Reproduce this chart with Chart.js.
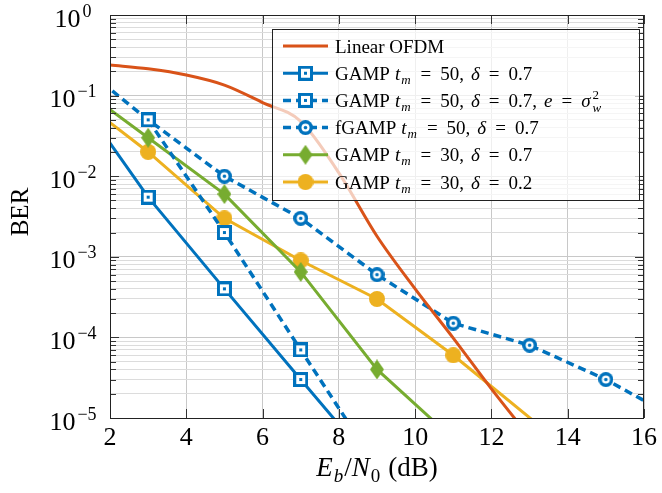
<!DOCTYPE html>
<html>
<head>
<meta charset="utf-8">
<script src="https://cdn.jsdelivr.net/npm/chart.js@4.4.0/dist/chart.umd.min.js"></script>
<style>
  html, body { margin: 0; padding: 0; background: #fff; }
  #wrap { width: 662px; height: 493px; }
</style>
</head>
<body>
<div id="wrap"><canvas id="ber-chart" width="662" height="493"></canvas></div>
<script>
// values (Eb/N0 in dB, BER)
const snrLinear = [2, 3, 4, 5, 6, 7, 8, 9, 10, 11, 12, 13];
const berLinear = [0.24, 0.215, 0.18, 0.135, 0.082, 0.048, 0.011, 1.8e-3, 4e-4, 9.8e-5, 2.3e-5, 5.8e-6];

const snrGamp50 = [1, 3, 5, 7, 9];
const berGamp50 = [0.12, 5.5e-3, 4e-4, 3e-5, 2.3e-6];

const snrGamp50e = [3, 5, 7, 9];
const berGamp50e = [0.05, 2e-3, 7e-5, 2.5e-6];

const snrFgamp50 = [1, 3, 5, 7, 9, 11, 13, 15, 17];
const berFgamp50 = [0.29, 0.05, 0.01, 3e-3, 6e-4, 1.5e-4, 8e-5, 3e-5, 9e-6];

const snrGamp30 = [1, 3, 5, 7, 9, 11];
const berGamp30 = [0.15, 0.03, 6e-3, 6.5e-4, 4e-5, 5.5e-6];

const snrGamp30d02 = [1, 3, 5, 7, 9, 11, 15];
const berGamp30d02 = [0.107, 0.02, 3e-3, 9e-4, 3e-4, 6e-5, 1.7e-6];

const xTicks = [2, 4, 6, 8, 10, 12, 14, 16];
const yExponents = [-5, -4, -3, -2, -1, 0];

// legend text: [text, style]  n = roman, i = italic, sub = italic subscript,
// subsup = sup|sub, g = horizontal gap in px (math spacing)
const eq = (v) => [[9, 'g'], ['=', 'n'], [9, 'g'], [v, 'n']];
const tm = [['t', 'i'], ['m', 'sub']];
const legendLabels = [
    [['Linear OFDM', 'n']],
    [['GAMP', 'n'], [5, 'g'], ...tm, ...eq('50,'), [7, 'g'], ['δ', 'i'], ...eq('0.7')],
    [['GAMP', 'n'], [5, 'g'], ...tm, ...eq('50,'), [7, 'g'], ['δ', 'i'], ...eq('0.7,'), [7, 'g'], ['e', 'i'], ...eq(''), ['σ', 'i'], ['2|w', 'subsup']],
    [['fGAMP', 'n'], [5, 'g'], ...tm, ...eq('50,'), [7, 'g'], ['δ', 'i'], ...eq('0.7')],
    [['GAMP', 'n'], [5, 'g'], ...tm, ...eq('30,'), [7, 'g'], ['δ', 'i'], ...eq('0.7')],
    [['GAMP', 'n'], [5, 'g'], ...tm, ...eq('30,'), [7, 'g'], ['δ', 'i'], ...eq('0.2')]
];
const xTitle = [['E', 'i'], ['b', 'sub'], ['/', 'n'], ['N', 'i'], ['0', 'subr'], [7, 'g'], ['(dB)', 'n']];
const yTitle = 'BER';

const FONT = '"Liberation Serif", "DejaVu Serif", serif';
const RED = '#D95319', BLUE = '#0072BD', GREEN = '#77AC30', YELLOW = '#EDB120';
const DASH = [8, 5];

function makeMarker(w, h, paint) {
    const c = document.createElement('canvas');
    c.width = w;
    c.height = h;
    paint(c.getContext('2d'), w, h);
    return c;
}

const squareMark = makeMarker(15, 15, (g) => {
    g.fillStyle = BLUE;
    g.fillRect(0, 0, 15, 15);
    g.fillStyle = '#fff';
    g.fillRect(3, 3, 9, 9);
    g.fillStyle = BLUE;
    g.fillRect(6, 6, 3, 3);
});
const ringMark = makeMarker(15, 15, (g) => {
    g.fillStyle = BLUE;
    g.beginPath(); g.arc(7.5, 7.5, 7.5, 0, Math.PI * 2); g.fill();
    g.fillStyle = '#fff';
    g.beginPath(); g.arc(7.5, 7.5, 4, 0, Math.PI * 2); g.fill();
    g.fillStyle = BLUE;
    g.beginPath(); g.arc(7.5, 7.5, 1.8, 0, Math.PI * 2); g.fill();
});
const diamondMark = makeMarker(14, 20, (g, w, h) => {
    g.fillStyle = GREEN;
    g.beginPath();
    g.moveTo(w / 2, 0); g.lineTo(w, h / 2); g.lineTo(w / 2, h); g.lineTo(0, h / 2);
    g.closePath(); g.fill();
});
const discMark = makeMarker(16, 16, (g) => {
    g.fillStyle = YELLOW;
    g.beginPath(); g.arc(8, 8, 8, 0, Math.PI * 2); g.fill();
});

const toPoints = (xs, ys) => xs.map((x, i) => ({x, y: ys[i]}));

function drawRich(ctx, segs, x, y, size, dry) {
    let cx = x;
    const small = Math.round(size * 0.7);
    const put = (t, px, py) => { if (!dry) ctx.fillText(t, px, py); };
    for (const [t, s] of segs) {
        if (s === 'g') {
            cx += t;
        } else if (s === 'n' || s === 'i') {
            ctx.font = (s === 'i' ? 'italic ' : '') + size + 'px ' + FONT;
            put(t, cx, y);
            cx += ctx.measureText(t).width;
        } else if (s === 'sub' || s === 'subr') {
            ctx.font = (s === 'sub' ? 'italic ' : '') + small + 'px ' + FONT;
            put(t, cx + 1, y + size * 0.22);
            cx += ctx.measureText(t).width + 2;
        } else if (s === 'subsup') {
            const [sup, sub] = t.split('|');
            ctx.font = small + 'px ' + FONT;
            const w1 = ctx.measureText(sup).width;
            put(sup, cx + 2, y - size * 0.4);
            ctx.font = 'italic ' + small + 'px ' + FONT;
            const w2 = ctx.measureText(sub).width;
            put(sub, cx + 2, y + size * 0.25);
            cx += Math.max(w1, w2) + 2;
        }
    }
    return cx - x;
}

const isDecade = (v) => Math.abs(Math.log10(v) - Math.round(Math.log10(v))) < 1e-9;

const decorPlugin = {
    id: 'decor',
    afterDraw(chart) {
        const {ctx, chartArea: a, scales: {x, y}} = chart;
        ctx.save();
        ctx.textBaseline = 'alphabetic';
        ctx.textAlign = 'left';

        // tick marks inside the frame
        ctx.strokeStyle = '#333';
        ctx.lineWidth = 1;
        ctx.beginPath();
        y.ticks.forEach(t => {
            const py = Math.round(y.getPixelForValue(t.value)) + 0.5;
            const len = isDecade(t.value) ? 9 : 6;
            ctx.moveTo(a.left, py); ctx.lineTo(a.left + len, py);
            ctx.moveTo(a.right, py); ctx.lineTo(a.right - len, py);
        });
        x.ticks.forEach(t => {
            const px = Math.round(x.getPixelForValue(t.value)) + 0.5;
            ctx.moveTo(px, a.bottom); ctx.lineTo(px, a.bottom - 9);
            ctx.moveTo(px, a.top); ctx.lineTo(px, a.top + 9);
        });
        ctx.stroke();

        // legend box
        const box = {left: 272, top: 29, right: 639, bottom: 200};
        ctx.fillStyle = 'rgba(255,255,255,0.7)';
        ctx.fillRect(box.left, box.top, box.right - box.left, box.bottom - box.top);
        ctx.strokeStyle = '#222';
        ctx.strokeRect(box.left + 0.5, box.top + 0.5, box.right - box.left, box.bottom - box.top);

        chart.data.datasets.forEach((ds, i) => {
            const cy = box.top + 17 + i * 27.2;
            ctx.save();
            ctx.strokeStyle = ds.borderColor;
            ctx.lineWidth = ds.borderWidth;
            ctx.setLineDash(ds.borderDash || []);
            ctx.beginPath();
            ctx.moveTo(283, cy); ctx.lineTo(328, cy);
            ctx.stroke();
            ctx.restore();
            if (ds.pointStyle && typeof ds.pointStyle === 'object') {
                const m = ds.pointStyle;
                ctx.drawImage(m, 305.5 - m.width / 2, cy - m.height / 2);
            }
            ctx.fillStyle = '#000';
            drawRich(ctx, legendLabels[i], 335, cy + 6.5, 19);
        });

        // frame
        ctx.strokeStyle = '#222';
        ctx.strokeRect(a.left + 0.5, a.top + 0.5, a.right - a.left - 1, a.bottom - a.top);

        // y tick labels 10^k
        ctx.fillStyle = '#000';
        yExponents.forEach(e => {
            const py = y.getPixelForValue(Math.pow(10, e));
            const exp = e === 0 ? '0' : '\u2212' + (-e);
            ctx.font = '26px ' + FONT;
            const bw = ctx.measureText('10').width;
            ctx.font = '18px ' + FONT;
            const ew = ctx.measureText(exp).width;
            const left = 73 - (bw + ew + 2) / 2;
            ctx.font = '26px ' + FONT;
            ctx.fillText('10', left, py + 11.5);
            ctx.font = '18px ' + FONT;
            ctx.fillText(exp, left + bw + 2, py + 1.5);
        });

        // x title
        const tw = drawRich(ctx, xTitle, 0, 0, 27, true);
        drawRich(ctx, xTitle, (a.left + a.right) / 2 - tw / 2, 476, 27);

        // y title
        ctx.save();
        ctx.translate(28, 212);
        ctx.rotate(-Math.PI / 2);
        ctx.textAlign = 'center';
        ctx.font = '25px ' + FONT;
        ctx.fillText(yTitle, 0, 0);
        ctx.restore();

        ctx.restore();
    }
};

const ctx = document.getElementById('ber-chart');
new Chart(ctx, {
    type: 'line',
    data: {
        datasets: [
            {
                label: 'Linear OFDM',
                data: toPoints(snrLinear, berLinear),
                borderColor: RED,
                borderWidth: 3,
                pointRadius: 0,
                cubicInterpolationMode: 'monotone'
            },
            {
                label: 'GAMP tm=50, d=0.7',
                data: toPoints(snrGamp50, berGamp50),
                borderColor: BLUE,
                borderWidth: 3,
                pointStyle: squareMark,
                pointRadius: 7
            },
            {
                label: 'GAMP tm=50, d=0.7, e=sigma_w^2',
                data: toPoints(snrGamp50e, berGamp50e),
                borderColor: BLUE,
                borderWidth: 3.5,
                borderDash: DASH,
                pointStyle: squareMark,
                pointRadius: 7
            },
            {
                label: 'fGAMP tm=50, d=0.7',
                data: toPoints(snrFgamp50, berFgamp50),
                borderColor: BLUE,
                borderWidth: 3.5,
                borderDash: DASH,
                pointStyle: ringMark,
                pointRadius: 7
            },
            {
                label: 'GAMP tm=30, d=0.7',
                data: toPoints(snrGamp30, berGamp30),
                borderColor: GREEN,
                borderWidth: 3,
                pointStyle: diamondMark,
                pointRadius: 7
            },
            {
                label: 'GAMP tm=30, d=0.2',
                data: toPoints(snrGamp30d02, berGamp30d02),
                borderColor: YELLOW,
                borderWidth: 3,
                pointStyle: discMark,
                pointRadius: 7
            }
        ]
    },
    options: {
        responsive: false,
        animation: false,
        layout: {padding: {left: 0, right: 14, top: 15, bottom: 0}},
        plugins: {
            legend: {display: false},
            tooltip: {enabled: false}
        },
        scales: {
            x: {
                type: 'linear',
                min: 2,
                max: 16,
                afterBuildTicks: (scale) => { scale.ticks = xTicks.map(v => ({value: v})); },
                afterFit: (scale) => { scale.height = 75; },
                grid: {color: '#c8c8c8', drawTicks: false},
                border: {display: false},
                ticks: {
                    color: '#000',
                    font: {family: FONT, size: 26},
                    padding: 5,
                    maxRotation: 0,
                    autoSkip: false
                }
            },
            y: {
                type: 'logarithmic',
                min: 1e-5,
                max: 1,
                afterBuildTicks: (scale) => {
                    const ticks = [];
                    yExponents.forEach(e => {
                        for (let m = 1; m <= 9; m++) {
                            const v = m * Math.pow(10, e);
                            if (v <= 1) ticks.push({value: v});
                        }
                    });
                    scale.ticks = ticks;
                },
                afterFit: (scale) => { scale.width = 110; },
                grid: {
                    color: (c) => (c.tick && isDecade(c.tick.value)) ? '#c8c8c8' : '#dcdcdc',
                    drawTicks: false
                },
                border: {display: false},
                ticks: {display: false}
            }
        }
    },
    plugins: [decorPlugin]
});
</script>
</body>
</html>
